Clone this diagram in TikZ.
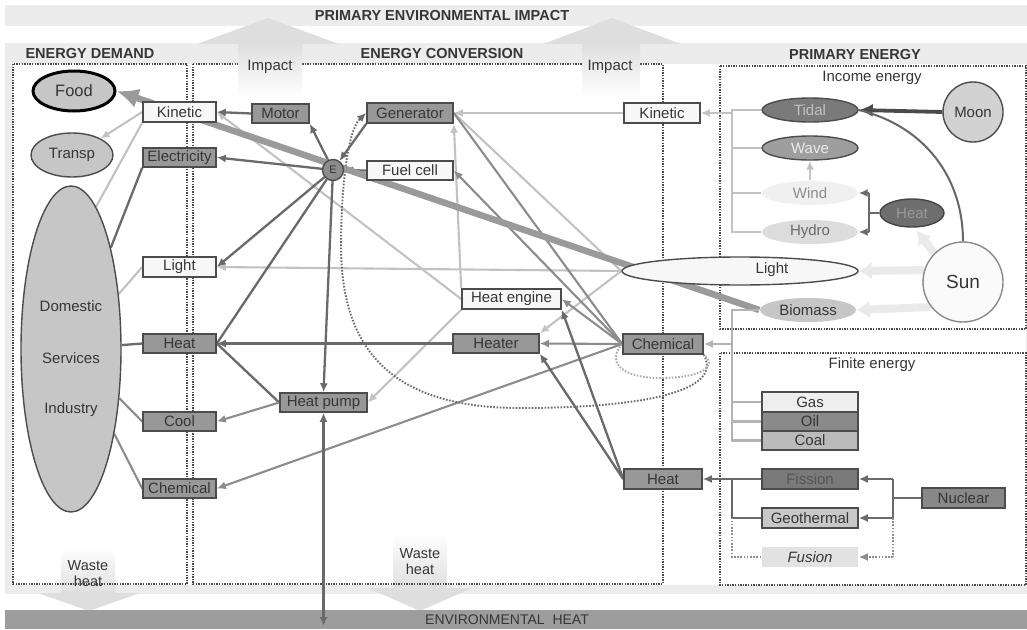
\documentclass[tikz,border=0pt]{standalone}
\usepackage{fontspec}
\setmainfont{Liberation Sans}
\usetikzlibrary{shapes.geometric,arrows.meta,calc}
\pgfdeclarelayer{back}
\pgfdeclarelayer{lines}
\pgfsetlayers{back,lines,main}
\definecolor{txt}{HTML}{363636}
\definecolor{bord}{HTML}{4C4C4C}
\definecolor{wfill}{HTML}{F7F7F7}
\definecolor{dfill}{HTML}{989898}
\definecolor{lnd}{HTML}{6A6A6A}
\definecolor{lnm}{HTML}{8C8C8C}
\definecolor{lnl}{HTML}{C2C2C2}
\definecolor{bandc}{HTML}{ECECEC}
\definecolor{arrg}{HTML}{DEDEDE}
\definecolor{envc}{HTML}{9D9D9D}
\definecolor{dotc}{HTML}{4A4A4A}
\definecolor{thk}{HTML}{9A9A9A}
\definecolor{fntc}{HTML}{EAEAEA}
\definecolor{ellf}{HTML}{C6C6C6}
\definecolor{g7A}{HTML}{7A7A7A}
\definecolor{g9E}{HTML}{9E9E9E}
\definecolor{gF0}{HTML}{F0F0F0}
\definecolor{gDC}{HTML}{DCDCDC}
\definecolor{g6E}{HTML}{6E6E6E}
\definecolor{g44}{HTML}{444444}
\definecolor{gD2}{HTML}{D2D2D2}
\definecolor{g8A}{HTML}{8A8A8A}
\definecolor{gFA}{HTML}{FAFAFA}
\definecolor{gEE}{HTML}{EEEEEE}
\definecolor{gBB}{HTML}{BBBBBB}
\definecolor{g55}{HTML}{555555}
\definecolor{gC8}{HTML}{C8C8C8}
\definecolor{gE2}{HTML}{E2E2E2}
\definecolor{g88}{HTML}{888888}
\definecolor{gAA}{HTML}{AAAAAA}
\definecolor{g4A}{HTML}{4A4A4A}
\definecolor{g66}{HTML}{666666}
\definecolor{gB4}{HTML}{B4B4B4}
\begin{document}
\begin{tikzpicture}[x=1pt,y=-1pt,
 lab/.style={font=\fontsize{15}{17}\selectfont, text=txt},
 box/.style={lab, rectangle, draw=bord, line width=1.6pt, minimum height=20pt, inner sep=0pt},
 wbox/.style={box, fill=wfill},
 dbox/.style={box, fill=dfill},
 ell/.style={lab, ellipse, inner sep=0pt, draw=bord, line width=1.4pt},
 lnD/.style={draw=lnd, line width=2.3pt},
 lnM/.style={draw=lnm, line width=2.1pt},
 lnL/.style={draw=lnl, line width=2.1pt},
 arr/.style={-{Latex[length=9pt,width=8pt]}},
 dotb/.style={draw=dotc, line width=1.5pt, dash pattern=on 1.4pt off 1.2pt},
 dotl/.style={draw=lnm, line width=1.9pt, dash pattern=on 1.6pt off 1.6pt},
 fnt/.style={draw=fntc, line width=8pt, -{Latex[length=13pt,width=18pt]}},
 ttl/.style={font=\bfseries\fontsize{14.5}{16}\selectfont, text=txt},
]
\useasboundingbox (0,0) rectangle (1027,629);

% ---------------- background ----------------
\begin{pgfonlayer}{back}
\fill[bandc] (5,5) rectangle (1027,26);
\fill[bandc] (5,43) rectangle (1027,594);
\fill[white] (13,64) rectangle (1026,585);
% waste heat shafts
\shade[top color=white, bottom color=arrg] (61,547) rectangle (115,594);
\shade[top color=white, bottom color=arrg] (393,533) rectangle (447,590);
% panels
\draw[dotb] (13,64) rectangle (187,584);
\draw[dotb] (193,64) rectangle (663,584);
\draw[dotb] (720,66) rectangle (1026,329);
\draw[dotb] (720,353) rectangle (1026,585);
% impact arrows
\shade[top color=arrg, bottom color=white] (238,43) rectangle (302,96);
\fill[arrg] (197,44) -- (268,18) -- (339,44) -- cycle;
\shade[top color=arrg, bottom color=white] (582,43) rectangle (640,96);
\fill[arrg] (543,44) -- (612,18) -- (681,44) -- cycle;
% waste heads
\fill[arrg] (38,593) -- (140,593) -- (89,611) -- cycle;
\fill[arrg] (368,588) -- (472,588) -- (420,611) -- cycle;
% environmental heat band
\fill[envc] (5,610) rectangle (1027,629);
\end{pgfonlayer}

% ---------------- titles ----------------
\node[ttl] (tImp) at (442,16) {PRIMARY ENVIRONMENTAL IMPACT};
\node[ttl] (tDem) at (90,54) {ENERGY DEMAND};
\node[ttl] (tCon) at (442,54) {ENERGY CONVERSION};
\node[ttl] (tPri) at (855,55) {PRIMARY ENERGY};
\node[lab] (imp1) at (270,67) {Impact};
\node[lab] (imp2) at (610,67) {Impact};
\node[lab, align=center, font=\fontsize{14.5}{16}\selectfont] (wh1) at (88,574) {Waste\\heat};
\node[lab, align=center, font=\fontsize{14.5}{16}\selectfont] (wh2) at (420,562) {Waste\\heat};
\node[text=txt, font=\fontsize{14}{15}\selectfont] (tEnv) at (507,620) {ENVIRONMENTAL\ \ HEAT};
\node[lab] (tInc) at (872,78) {Income energy};
\node[lab] (tFin) at (872,365) {Finite energy};

% ---------------- demand ----------------
\node[ell, draw=black, line width=3pt, fill=ellf, minimum width=82pt, minimum height=40pt, font=\fontsize{16.5}{18}\selectfont] (food) at (74,91) {Food};
\node[ell, fill=ellf, minimum width=82pt, minimum height=44pt] (transp) at (72,155) {Transp};
\node[ell, fill=ellf, minimum width=100pt, minimum height=326pt] (dsi) at (71,349) {};
\node[lab] (tD1) at (71,306) {Domestic};
\node[lab] (tD2) at (71,358) {Services};
\node[lab] (tD3) at (71,410) {Industry};
\node[wbox, minimum width=73pt] (kinL) at (179.5,112) {Kinetic};
\node[dbox, minimum width=73pt, minimum height=19pt] (elec) at (179.5,157.5) {Electricity};
\node[wbox, minimum width=73pt] (lightL) at (179.5,267) {Light};
\node[dbox, minimum width=73pt, minimum height=19pt] (heatL) at (179.5,343.5) {Heat};
\node[dbox, minimum width=73pt, minimum height=19pt] (cool) at (179.5,421.5) {Cool};
\node[dbox, minimum width=73pt, minimum height=19pt] (chemL) at (179.5,488.5) {Chemical};

% ---------------- conversion ----------------
\node[dbox, minimum width=57pt, minimum height=19pt] (motor) at (280.5,113.5) {Motor};
\node[dbox, minimum width=86pt] (gen) at (410,113) {Generator};
\node[wbox, minimum width=86pt, minimum height=19pt] (fuel) at (410,170.5) {Fuel cell};
\node[circle, draw=bord, line width=1.4pt, fill=lnm, minimum size=21pt, inner sep=0pt, font=\fontsize{11}{12}\selectfont, text=txt] (E) at (333,170) {E};
\node[wbox, minimum width=99pt] (heng) at (511.5,299) {Heat engine};
\node[dbox, minimum width=86pt, minimum height=19pt] (heater) at (496,343.5) {Heater};
\node[dbox, minimum width=87pt, minimum height=19pt] (hpump) at (323.5,402.5) {Heat pump};
\node[wbox, minimum width=76pt] (kinR) at (662,113) {Kinetic};
\node[dbox, minimum width=80pt] (chemR) at (663,344) {Chemical};
\node[dbox, minimum width=78pt] (heatR) at (663,479) {Heat};
\coordinate (envpt) at (323.5,626);

% ---------------- primary ----------------
\node[ell, fill=g7A, minimum width=96pt, minimum height=24pt, text=lnl] (tidal) at (810,110) {Tidal};
\node[ell, fill=g9E, minimum width=96pt, minimum height=24pt, text=bandc] (wave) at (810,148) {Wave};
\node[ell, fill=gF0, draw=none, minimum width=96pt, minimum height=24pt, text=lnm] (wind) at (810,193) {Wind};
\node[ell, fill=gDC, draw=none, minimum width=96pt, minimum height=24pt, text=lnd] (hydro) at (810,232) {Hydro};
\node[ell, fill=g6E, draw=g44, minimum width=64pt, minimum height=28pt, text=dfill] (heatS) at (912,213) {Heat};
\node[circle, draw=bord, line width=1.4pt, fill=gD2, minimum size=60pt, inner sep=0pt, lab] (moon) at (973,112) {Moon};
\node[circle, draw=g8A, line width=1.4pt, fill=gFA, minimum size=80pt, inner sep=0pt, text=txt, font=\fontsize{19}{21}\selectfont] (sun) at (963,282) {Sun};
\node[ell, fill=wfill, minimum width=236pt, minimum height=28pt] (lightE) at (740,271) {};
\node[lab] (tLight) at (772,270) {Light};
\node[ell, fill=ellf, draw=none, minimum width=96pt, minimum height=24pt] (biomass) at (808,310) {Biomass};
\node[box, fill=gEE, minimum width=96pt] (gas) at (810,402) {Gas};
\node[box, fill=g8A, minimum width=96pt, minimum height=19pt] (oil) at (810,421.5) {Oil};
\node[box, fill=gBB, minimum width=96pt, minimum height=19pt] (coal) at (810,440.5) {Coal};
\node[box, fill=g7A, minimum width=96pt, text=g55] (fission) at (810,479) {Fission};
\node[box, fill=gC8, minimum width=96pt] (geo) at (810,518) {Geothermal};
\node[box, draw=none, fill=gE2, minimum width=96pt, font=\itshape\fontsize{15}{17}\selectfont] (fusion) at (810,557) {Fusion};
\node[box, fill=g88, minimum width=83pt] (nuclear) at (963.5,498) {Nuclear};
\coordinate (ib) at (732,0);
\coordinate (hb) at (869,0);
\coordinate (nb) at (893,0);
\coordinate (sunh) at (917,231);

% ---------------- connectors ----------------
\begin{pgfonlayer}{lines}
% demand side
\draw[lnL,arr] (kinL.west) -- (transp.30);
\draw[lnL] (kinL.south west) -- (dsi.80);
\draw[lnD] (elec.south west) -- (dsi);
\draw[lnL] (lightL.west) -- (dsi);
\draw[lnD] (heatL.west) -- (dsi);
\draw[lnM] (cool.west) -- (dsi);
\draw[lnM] (chemL.west) -- (dsi);
% conversion
\draw[lnL,arr] (heng.west) -- (kinL.east);
\draw[lnL] (lightE.west) -- (gen.east);
\draw[lnL,arr] (lightE.west) -- (lightL.east);
\draw[lnL,arr] (lightE.west) -- (heater.north east);
\draw[lnL,arr] (heng.south west) -- (hpump.east);
\draw[lnL,arr] (heng.north west) -- (gen.south east);
\draw[lnL,arr] (kinR.west) -- (gen.east);
\draw[lnM] (chemR.west) -- (gen.east);
\draw[lnM,arr] (chemR.west) -- (fuel.east);
\draw[lnM,arr] (chemR.west) -- (heng.east);
\draw[lnM,arr] (chemR.west) -- (heater.east);
\draw[lnM,arr] (chemR.west) -- (chemL.east);
\draw[lnD,arr] (heatR.west) -- (heng.south east);
\draw[lnD,arr] (heatR.west) -- (heater.south east);
\draw[lnD,arr] (motor.west) -- (kinL.east);
\draw[lnD,arr] (E) -- (motor.south east);
\draw[lnD,arr] (E) -- (elec.east);
\draw[lnD,arr] (E) -- (lightL.east);
\draw[lnD] (E) -- (heatL.east);
\draw[lnD,arr] (E) -- (hpump.north);
\draw[lnD,arr] (gen.south west) -- (E);
\draw[lnD,arr] (fuel.west) -- (E);
\draw[lnD,arr] (heater.west) -- (heatL.east);
\draw[lnD] (hpump.west) -- (heatL.east);
\draw[lnM,arr] (hpump.west) -- (cool.east);
\draw[lnD,{Latex[length=9pt,width=8pt]}-{Latex[length=9pt,width=8pt]}] (hpump.south) -- (envpt);
% dotted storage loops
\draw[dotl, draw=lnd, arr] (chemR.south east) .. controls (724,392) and (640,408) .. (520,408)
  .. controls (372,408) and (340,330) .. (341,240)
  .. controls (342,170) and (350,128) .. (gen.west);
\draw[dotl, draw=gAA] (chemR.west) .. controls (606,362) and (622,378) .. (660,378)
  .. controls (702,378) and (718,366) .. (chemR.south east);
% thick biomass to food
\draw[draw=thk, line width=6.5pt, -{Latex[length=22pt,width=20pt]}] (biomass.west) -- (food.east);
% income energy
\draw[lnL] (tidal.west) -- (tidal.west -| ib) -- (hydro.west -| ib) -- (hydro.west);
\draw[lnL] (wave.west) -- (wave.west -| ib);
\draw[lnL] (wind.west) -- (wind.west -| ib);
\draw[lnL,arr] (kinR.east -| ib) -- (kinR.east);
\draw[lnL,arr] (wind.north) -- (wave.south);
\draw[lnD] (heatS.west) -- (heatS.west -| hb);
\draw[lnD] (wind.east -| hb) -- (hydro.east -| hb);
\draw[lnD,arr] (wind.east -| hb) -- (wind.east);
\draw[lnD,arr] (hydro.east -| hb) -- (hydro.east);
\draw[draw=g4A, line width=3.8pt, -{Latex[length=14pt,width=13pt]}] (moon.west) -- (tidal.east);
\draw[draw=g66, line width=2pt] (sun.north) .. controls (963,178) and (925,126) .. (tidal.east);
\draw[fnt] (sun.135) -- (sunh);
\draw[fnt] (sun.163) -- (lightE.east);
\draw[fnt] (sun.218) -- (biomass.east);
% chemical branch
\draw[lnL, draw=gB4] (biomass.west) -- (biomass.west -| ib) -- (coal.west -| ib) -- (coal.west);
\draw[lnL, draw=gB4] (gas.west) -- (gas.west -| ib);
\draw[lnL, draw=gB4] (oil.west) -- (oil.west -| ib);
\draw[lnL, draw=gB4, arr] (chemR.east -| ib) -- (chemR.east);
% finite energy
\draw[lnD] (nuclear.west) -- (nuclear.west -| nb);
\draw[lnD] (fission.east -| nb) -- (geo.east -| nb);
\draw[lnD,arr] (fission.east -| nb) -- (fission.east);
\draw[lnD,arr] (geo.east -| nb) -- (geo.east);
\draw[dotl, draw=lnm] (geo.east -| nb) -- (fusion.east -| nb);
\draw[dotl, draw=lnm, arr] (fusion.east -| nb) -- (fusion.east);
\draw[lnD,arr] (fission.west) -- (heatR.east);
\draw[lnD] (geo.west) -- (geo.west -| ib) -- (fission.west -| ib);
\draw[dotl, draw=lnm] (fusion.west) -- (fusion.west -| ib) -- (geo.west -| ib);
\end{pgfonlayer}
\end{tikzpicture}
\end{document}
